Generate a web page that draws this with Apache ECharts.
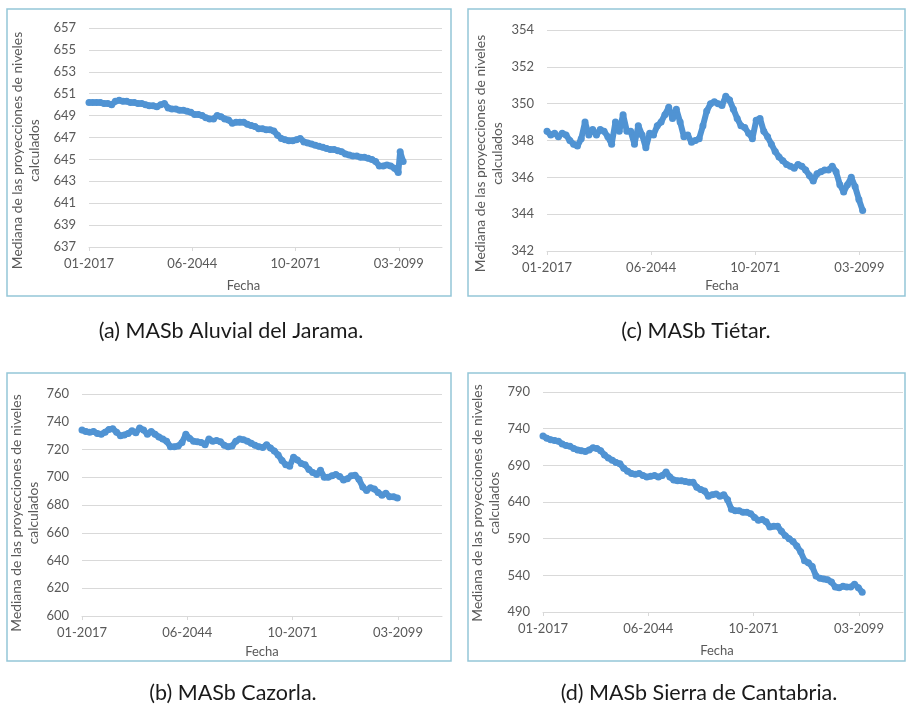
<!DOCTYPE html>
<html lang="es">

<head>
  <meta charset="UTF-8">
  <title>Mediana de las proyecciones de niveles</title>
  <script src="https://cdn.jsdelivr.net/npm/echarts@6/dist/echarts.min.js"></script>
  <style>
    body { margin: 0; background: #fff; }
  </style>
</head>

<body>
  <div id="chart" style="width: 908px; height: 708px"></div>

  <script>
    // eje X: años desde 01-2017, un tick cada 10000 días
    let paso = 27.379
    let etiquetasX = ['01-2017', '06-2044', '10-2071', '03-2099']

    // (a) MASb Aluvial del Jarama, un valor por año
    let jarama = [650.2, 650.2, 650.2, 650.2, 650.1, 650.1, 650.0, 650.3, 650.4, 650.3,
      650.3, 650.2, 650.2, 650.1, 650.1, 650.0, 649.9, 649.9, 649.8, 650.0,
      650.1, 649.7, 649.6, 649.6, 649.5, 649.5, 649.4, 649.3, 649.1, 649.1,
      649.0, 648.8, 648.7, 648.7, 649.0, 648.9, 648.7, 648.6, 648.3, 648.4,
      648.4, 648.4, 648.2, 648.1, 648.0, 647.8, 647.8, 647.7, 647.7, 647.6,
      647.2, 646.9, 646.8, 646.7, 646.7, 646.8, 646.9, 646.6, 646.5, 646.4,
      646.3, 646.2, 646.1, 646.0, 645.9, 645.9, 645.8, 645.7, 645.5, 645.4,
      645.3, 645.3, 645.2, 645.2, 645.1, 645.0, 644.8, 644.4, 644.4, 644.5,
      644.4, 644.2, 643.8]
    // salto final de (a): [año, nivel]
    let jaramaCola = [[82.5, 645.7], [83.3, 644.8]]

    // (c) MASb Tiétar
    let tietar = [348.5, 348.3, 348.4, 348.2, 348.4, 348.3, 348.0, 347.8, 347.7, 348.1,
      349.0, 348.3, 348.6, 348.3, 348.6, 348.5, 348.2, 347.8, 349.0, 348.5,
      349.4, 348.5, 348.5, 347.8, 348.8, 348.3, 347.6, 348.4, 348.3, 348.8,
      349.0, 349.4, 349.8, 349.2, 349.7, 349.0, 348.2, 348.3, 347.9, 348.0,
      348.1, 348.8, 349.6, 350.0, 350.1, 350.0, 349.9, 350.4, 350.2, 349.7,
      349.2, 348.8, 348.7, 348.4, 348.1, 349.1, 349.2, 348.5, 348.2, 347.8,
      347.4, 347.1, 346.9, 346.7, 346.6, 346.5, 346.7, 346.6, 346.4, 346.1,
      345.8, 346.2, 346.3, 346.4, 346.4, 346.6, 346.3, 345.6, 345.2, 345.6,
      346.0, 345.5, 344.8, 344.2]

    // (b) MASb Cazorla
    let cazorla = [734.0, 733.0, 732.5, 733.0, 731.5, 731.0, 732.5, 734.5, 735.0, 732.5,
      730.0, 730.5, 731.5, 733.5, 732.0, 735.5, 734.0, 731.0, 733.0, 731.0,
      729.0, 727.5, 726.0, 722.0, 722.0, 722.5, 725.0, 731.0, 728.0, 726.0,
      725.5, 725.0, 723.5, 727.5, 726.0, 726.5, 725.5, 723.0, 722.0, 722.5,
      726.0, 727.5, 727.0, 726.0, 724.5, 723.0, 722.0, 721.5, 723.5, 721.0,
      719.0, 716.0, 712.0, 709.0, 708.0, 714.5, 712.5, 710.0, 709.0, 705.5,
      703.5, 702.0, 705.0, 700.0, 700.0, 701.0, 702.0, 700.5, 698.0, 699.0,
      701.0, 701.5, 698.5, 693.0, 690.5, 692.5, 691.5, 689.0, 687.0, 688.5,
      686.0, 686.0, 685.0]

    // (d) MASb Sierra de Cantabria
    let cantabria = [730, 727, 725, 724, 723, 719, 717, 716, 713, 711,
      710, 709, 711, 714, 713, 710, 704, 700, 697, 694,
      692, 686, 682, 679, 678, 679, 676, 674, 675, 676,
      674, 676, 681, 674, 670, 669, 669, 668, 667, 667,
      660, 657, 655, 648, 650, 651, 648, 650, 643, 630,
      628, 628, 626, 626, 624, 619, 615, 616, 613, 606,
      607, 607, 600, 594, 590, 586, 580, 572, 560, 557,
      552, 539, 536, 535, 534, 531, 524, 523, 525, 524,
      524, 528, 523, 517]

    let titulos = ['(a) MASb Aluvial del Jarama.', '(c) MASb Tiétar.', '(b) MASb Cazorla.', '(d) MASb Sierra de Cantabria.']

    let fuente = 'Lato, "Liberation Sans", sans-serif'
    let gris = '#595959'
    let azul = '#5093d3'

    function puntos(valores) {
      return valores.map((v, i) => [i, v])
    }

    let paneles = [
      { datos: puntos(jarama).concat(jaramaCola), grid: { left: 89, top: 28, width: 353, height: 219 },
        min: 637, max: 657, interval: 2, yGap: 46, yBaja: 13, fechaGap: 32, fechaIzq: 22,
        marco: [7, 9, 444, 287], titulo: [231, 331] },
      { datos: puntos(tietar), grid: { left: 547, top: 30, width: 356, height: 221 },
        min: 342, max: 354, interval: 2, yGap: 41, yBaja: 13, fechaGap: 28, fechaIzq: 3,
        marco: [468, 9, 437, 287], titulo: [696, 331] },
      { datos: puntos(cazorla), grid: { left: 82, top: 394, width: 360, height: 222 },
        min: 600, max: 760, interval: 20, yGap: 39, yBaja: 8, fechaGap: 29, fechaIzq: 0,
        marco: [7, 373, 444, 288], titulo: [233, 693] },
      { datos: puntos(cantabria), grid: { left: 543, top: 392, width: 360, height: 220 },
        min: 490, max: 790, interval: 50, yGap: 38, yBaja: 1, fechaGap: 32, fechaIzq: 6,
        marco: [468, 373, 437, 288], titulo: [699, 693] }
    ]

    let dom = document.getElementById('chart')
    let myChart = echarts.init(dom)

    let option = {
      animation: false,
      backgroundColor: '#fff',
      grid: paneles.map(p => p.grid),
      xAxis: paneles.map((p, i) => ({
        gridIndex: i,
        type: 'value',
        min: 0,
        max: 93.6,
        interval: paso,
        name: 'Fecha',
        nameLocation: 'middle',
        nameGap: p.fechaGap,
        nameTextStyle: { color: gris, fontSize: 13, fontFamily: fuente, padding: [0, p.fechaIzq * 2, 0, 0] },
        axisLine: { lineStyle: { color: '#d9d9d9' } },
        axisTick: { length: 4, lineStyle: { color: '#d9d9d9' } },
        splitLine: { show: false },
        axisLabel: {
          color: gris, fontSize: 13, fontFamily: fuente, margin: 10, showMaxLabel: false,
          formatter: v => {
            let k = Math.round(v / paso)
            return Math.abs(v - k * paso) < 0.01 && k < etiquetasX.length ? etiquetasX[k] : ''
          }
        }
      })),
      yAxis: paneles.map((p, i) => ({
        gridIndex: i,
        type: 'value',
        min: p.min,
        max: p.max,
        interval: p.interval,
        name: 'Mediana de las proyecciones de niveles\ncalculados',
        nameLocation: 'middle',
        nameGap: p.yGap,
        nameTextStyle: { color: gris, fontSize: 13.8, lineHeight: 17, fontFamily: fuente, padding: [0, p.yBaja * 2, 0, 0] },
        axisLine: { show: false },
        axisTick: { show: false },
        axisLabel: { color: gris, fontSize: 13, fontFamily: fuente, margin: 13 },
        splitLine: { lineStyle: { color: '#d9d9d9' } }
      })),
      series: paneles.map((p, i) => ({
        type: 'line',
        xAxisIndex: i,
        yAxisIndex: i,
        data: p.datos,
        symbol: 'circle',
        symbolSize: 7,
        showAllSymbol: true,
        lineStyle: { width: 6, color: azul },
        itemStyle: { color: azul }
      })),
      graphic: paneles.map(p => ({
        type: 'rect',
        shape: { x: p.marco[0], y: p.marco[1], width: p.marco[2], height: p.marco[3] },
        style: { fill: 'none', stroke: '#94c6d8', lineWidth: 1.5 }
      })).concat(paneles.map((p, i) => ({
        type: 'text',
        x: p.titulo[0],
        y: p.titulo[1],
        style: {
          text: titulos[i], fill: '#1a1a1a', fontSize: 21.5, fontFamily: fuente,
          textAlign: 'center', textVerticalAlign: 'middle'
        }
      })))
    }
    myChart.setOption(option)
  </script>
</body>

</html>
